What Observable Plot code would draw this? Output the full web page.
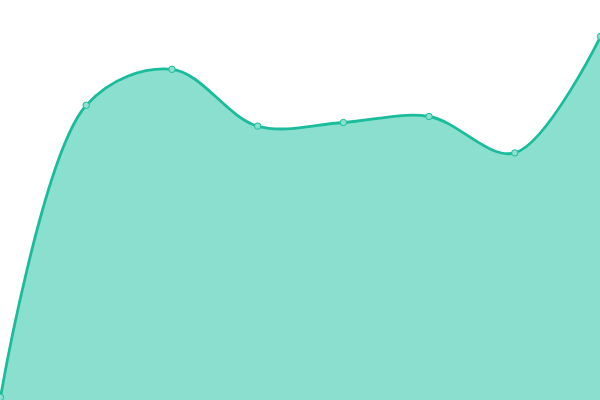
<!DOCTYPE html>
<html>
<head>
<meta charset="utf-8">
<script src="https://cdn.jsdelivr.net/npm/d3@7"></script>
<script src="https://cdn.jsdelivr.net/npm/@observablehq/plot@0.6"></script>
<style>
  html, body { margin: 0; padding: 0; background: #fff; }
</style>
</head>
<body>
<div id="chart"></div>
<script>
const xs = [0, 1, 2, 3, 4, 5, 6, 7];
const values = [0.8, 73.8, 82.8, 68.6, 69.5, 71, 61.9, 91];
const data = xs.map((x, i) => ({x, y: values[i]}));

const chart = Plot.plot({
  width: 600,
  height: 400,
  margin: 0,
  x: {domain: [0, 7], axis: null},
  y: {domain: [0, 100], axis: null},
  marks: [
    Plot.areaY(data, {x: "x", y: "y", curve: "catmull-rom", fill: "#15c09d", fillOpacity: 0.5}),
    Plot.lineY(data, {x: "x", y: "y", curve: "catmull-rom", stroke: "#1abc9c", strokeWidth: 2.8}),
    Plot.dot(data, {x: "x", y: "y", r: 3.2, fill: "#8ce0d0", stroke: "#1abc9c", strokeWidth: 1})
  ]
});
document.getElementById("chart").appendChild(chart);
</script>
</body>
</html>
